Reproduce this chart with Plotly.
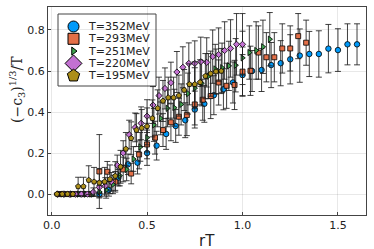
import plotly.graph_objects as go

# lattice time extents -> rT = n / Nt
labels = ["T=352MeV", "T=293MeV", "T=251MeV", "T=220MeV", "T=195MeV"]
nt_values = [20, 24, 28, 32, 36]
n_steps = list(range(1, 33))

y_352 = [0, 0, 0, 0, 0, 0.02, 0.08, 0.145, 0.153, 0.20, 0.236, 0.293, 0.332, 0.36, 0.412, 0.44,
         0.482, 0.511, 0.544, 0.58, 0.60, 0.605, 0.629, 0.638, 0.657, 0.675, 0.683, 0.683, 0.709, 0.702, 0.73, 0.73]
e_352 = [0.004, 0.004, 0.005, 0.006, 0.01, 0.03, 0.04, 0.05, 0.055, 0.06, 0.07, 0.075, 0.08, 0.085, 0.09, 0.09,
         0.095, 0.1, 0.1, 0.1, 0.1, 0.105, 0.11, 0.11, 0.12, 0.13, 0.11, 0.113, 0.118, 0.104, 0.1, 0.1]

y_293 = [0, 0, 0, 0, 0, 0.11, 0.109, 0.06, 0.12, 0.10, 0.193, 0.242, 0.275, 0.312, 0.35, 0.377,
         0.385, 0.437, 0.46, 0.478, 0.544, 0.528, 0.532, 0.597, 0.601, 0.69, 0.667, 0.667, 0.71, 0.71, 0.77, 0.738]
e_293 = [0.004, 0.005, 0.006, 0.008, 0.01, 0.18, 0.05, 0.05, 0.06, 0.05, 0.07, 0.07, 0.08, 0.08, 0.09, 0.09,
         0.1, 0.1, 0.1, 0.11, 0.11, 0.11, 0.12, 0.12, 0.12, 0.13, 0.12, 0.12, 0.12, 0.11, 0.11, 0.11]

y_251 = [0, 0, 0, 0, 0, 0, 0.011, 0.02, 0.047, 0.09, 0.12, 0.171, 0.23, 0.275, 0.337, 0.369,
         0.418, 0.421, 0.437, 0.49, 0.516, 0.54, 0.575, 0.61, 0.616, 0.625, 0.628, 0.664, 0.69, 0.70, 0.718, 0.755]
e_251 = [0.004, 0.004, 0.005, 0.006, 0.008, 0.01, 0.03, 0.04, 0.045, 0.05, 0.055, 0.06, 0.07, 0.07, 0.08, 0.08,
         0.09, 0.09, 0.1, 0.1, 0.1, 0.11, 0.11, 0.12, 0.12, 0.12, 0.13, 0.13, 0.13, 0.14, 0.13, 0.13]

y_220 = [0, 0, 0, 0, 0, 0, 0.01, 0.033, 0.04, 0.06, 0.14, 0.20, 0.29, 0.325, 0.345, 0.38,
         0.434, 0.48, 0.515, 0.543, 0.595, 0.618, 0.637, 0.637, 0.645, 0.642, 0.67, 0.68, 0.70, 0.71, 0.73, 0.73]
e_220 = [0.004, 0.004, 0.005, 0.006, 0.008, 0.01, 0.02, 0.03, 0.04, 0.045, 0.05, 0.06, 0.07, 0.07, 0.08, 0.08,
         0.09, 0.09, 0.1, 0.1, 0.1, 0.1, 0.1, 0.11, 0.12, 0.12, 0.13, 0.13, 0.14, 0.14, 0.15, 0.15]

y_195 = [0, 0, 0, 0, 0.037, 0.037, 0.068, 0.06, 0.055, 0.06, 0.072, 0.088, 0.133, 0.22, 0.272, 0.312,
         0.322, 0.33, 0.369, 0.418, 0.454, 0.47, 0.47, 0.48, 0.507, 0.535, 0.535, 0.545, 0.575, 0.587, 0.597, 0.60]
e_195 = [0.004, 0.004, 0.005, 0.006, 0.045, 0.045, 0.07, 0.07, 0.07, 0.07, 0.07, 0.07, 0.08, 0.08, 0.08, 0.08,
         0.09, 0.09, 0.09, 0.09, 0.1, 0.1, 0.1, 0.1, 0.1, 0.1, 0.11, 0.11, 0.11, 0.11, 0.11, 0.11]

series_y = [y_352, y_293, y_251, y_220, y_195]
series_e = [e_352, e_293, e_251, e_220, e_195]

colors = ["#009AFA", "#E36F47", "#3EA44E", "#C371D2", "#AC8E18"]
symbols = ["circle", "square", "triangle-right", "diamond", "pentagon"]
plot_sizes = [5.5, 5, 5.5, 4.8, 5.5]
legend_sizes = [11, 11, 7, 13, 13]

# layout (pixels)
W, H = 374, 249
ML, MR, MT, MB = 48, 8, 7, 34
PW, PH = W - ML - MR, H - MT - MB
# custom legend geometry in pixels relative to plot area top-left
LEG_X0, LEG_X1, LEG_Y0, LEG_Y1 = 10, 108, 7, 79
LEG_ROW0, LEG_ROWSTEP = 19.5, 12.3
LEG_SYM_X, LEG_TXT_X = 25.5, 38

fig = go.Figure()
for lab, nt, ys, es, c, s, ps in zip(labels, nt_values, series_y, series_e, colors, symbols, plot_sizes):
    xs = [n / nt for n in n_steps]
    fig.add_trace(go.Scatter(
        x=xs, y=ys, mode="markers", name=lab, showlegend=False,
        marker=dict(color=c, symbol=s, size=ps, line=dict(color="black", width=0.8)),
        error_y=dict(type="data", array=es, visible=True, color="rgba(30,30,30,0.85)",
                     thickness=1, width=3),
    ))

# legend symbols on an overlay pixel axis
for i, (lab, c, s, ls) in enumerate(zip(labels, colors, symbols, legend_sizes)):
    yrow = LEG_ROW0 + i * LEG_ROWSTEP
    fig.add_trace(go.Scatter(
        x=[LEG_SYM_X], y=[yrow], xaxis="x2", yaxis="y2", mode="markers", showlegend=False,
        hoverinfo="skip", cliponaxis=False,
        marker=dict(color=c, symbol=s, size=ls, line=dict(color="black", width=1)),
    ))
    fig.add_annotation(x=(LEG_TXT_X) / PW, y=1 - yrow / PH, xref="paper", yref="paper",
                       text=lab, showarrow=False, xanchor="left", yanchor="middle",
                       font=dict(family="DejaVu Sans", size=11, color="#222222"))

fig.add_shape(type="rect", xref="paper", yref="paper", layer="between",
              x0=LEG_X0 / PW, x1=LEG_X1 / PW, y0=1 - LEG_Y1 / PH, y1=1 - LEG_Y0 / PH,
              line=dict(color="#444444", width=1), fillcolor="white")

axis_common = dict(
    showgrid=True, gridcolor="rgba(0,0,0,0.09)", gridwidth=0.6,
    zeroline=False, showline=True, linecolor="#444444", linewidth=1, mirror=True,
    ticks="inside", ticklen=3, tickcolor="#444444",
    tickfont=dict(family="DejaVu Sans", size=11, color="#222222"),
)

# axis titles
fig.add_annotation(x=0.5, y=-(241 - (H - MB)) / PH, xref="paper", yref="paper", text="rT",
                   showarrow=False, xanchor="center", yanchor="middle",
                   font=dict(family="DejaVu Sans", size=15, color="#222222"))
fig.add_annotation(x=-(ML - 17) / PW, y=1 - (89 - MT) / PH, xref="paper", yref="paper",
                   text="(−c<sub>3</sub>)<sup>1/3</sup>/T", textangle=-90,
                   showarrow=False, xanchor="center", yanchor="middle",
                   font=dict(family="DejaVu Serif", size=14, color="#222222"))

fig.update_layout(
    width=W, height=H,
    margin=dict(l=ML, r=MR, t=MT, b=MB),
    paper_bgcolor="white", plot_bgcolor="white",
    xaxis=dict(range=[-0.019, 1.647], tickvals=[0.0, 0.5, 1.0, 1.5], ticktext=["0.0", "0.5", "1.0", "1.5"],
               **axis_common),
    yaxis=dict(range=[-0.102, 0.912], tickvals=[0.0, 0.2, 0.4, 0.6, 0.8], ticktext=["0.0", "0.2", "0.4", "0.6", "0.8"],
               **axis_common),
    xaxis2=dict(overlaying="x", range=[0, PW], visible=False, fixedrange=True),
    yaxis2=dict(overlaying="y", range=[PH, 0], visible=False, fixedrange=True),
    showlegend=False,
)

fig.write_html("out.html", config={"displayModeBar": False},
               post_script="document.body.style.margin='0';document.body.style.overflow='hidden';")
